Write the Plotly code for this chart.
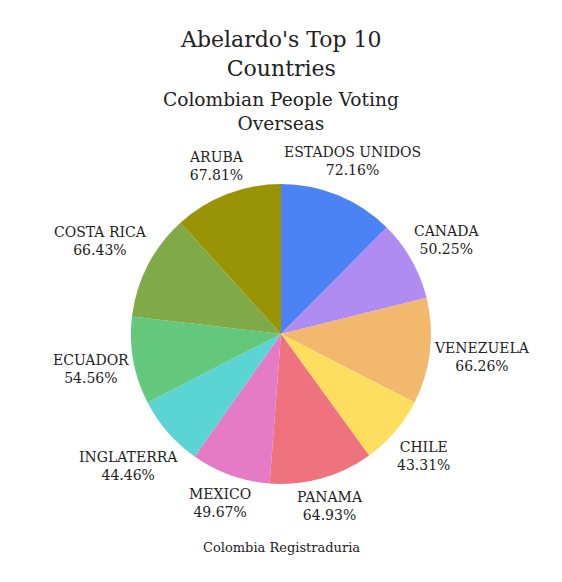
import math
import plotly.graph_objects as go

countries = ["ESTADOS UNIDOS", "CANADA", "VENEZUELA", "CHILE", "PANAMA",
             "MEXICO", "INGLATERRA", "ECUADOR", "COSTA RICA", "ARUBA"]
turnout = [72.16, 50.25, 66.26, 43.31, 64.93, 49.67, 44.46, 54.56, 66.43, 67.81]
colors = ["#4C83F4", "#B08CF2", "#F2B86E", "#FFDD5E", "#EF737E",
          "#E57BC5", "#5BD4D4", "#63C77C", "#7FAA47", "#999406"]

FONT = "DejaVu Serif"
TXT = "#222222"
W, H = 562, 582
CX, CY, R = 273, 326, 150   # pie centre / radius in figure pixels
LABEL_SIZE = 14
GAP = 7                      # clearance between pie edge and label box


def text_width(s, size):
    # rough DejaVu Serif advance widths (em units)
    w = 0
    for ch in s:
        if ch.isdigit():
            w += 0.636
        elif ch in ". ":
            w += 0.318
        elif ch == "%":
            w += 0.84
        elif ch == "I":
            w += 0.40
        else:
            w += 0.70
    return w * size


fig = go.Figure()
fig.add_trace(
    go.Pie(
        labels=countries,
        values=turnout,
        sort=False,
        direction="clockwise",
        rotation=0,
        marker={"colors": colors, "line": {"width": 0}},
        textinfo="none",
        hoverinfo="label+value",
        showlegend=False,
        domain={"x": [(CX - R) / W, (CX + R) / W], "y": [1 - (CY + R) / H, 1 - (CY - R) / H]},
    )
)

# outside labels: centred on each slice's mid-angle ray, pushed out until clear of the pie
total = sum(turnout)
cum = 0
for name, val in zip(countries, turnout):
    mid = (cum + val / 2) / total * 2 * math.pi
    cum += val
    ux, uy = math.sin(mid), -math.cos(mid)
    pct = f"{val:.2f}%"
    hw = max(text_width(name, LABEL_SIZE), text_width(pct, LABEL_SIZE)) / 2
    hh = 16
    lo, hi = 0.0, 400.0
    for _ in range(40):
        d = (lo + hi) / 2
        nx = max(0, abs(d * ux) - hw)
        ny = max(0, abs(d * uy) - hh)
        if math.hypot(nx, ny) < R + GAP:
            lo = d
        else:
            hi = d
    px, py = CX + d * ux, CY + d * uy
    fig.add_annotation(
        text=f"{name}<br>{pct}",
        x=px / W, y=1 - py / H, xref="paper", yref="paper",
        xanchor="center", yanchor="middle", showarrow=False,
        font={"size": LABEL_SIZE, "color": TXT, "family": FONT},
    )

fig.add_annotation(
    text="Abelardo's Top 10<br>Countries",
    x=CX / W, y=1 - 46 / H, xref="paper", yref="paper", yanchor="middle",
    showarrow=False, font={"size": 22, "color": TXT, "family": FONT},
)
fig.add_annotation(
    text="Colombian People Voting<br>Overseas",
    x=CX / W, y=1 - 103 / H, xref="paper", yref="paper", yanchor="middle",
    showarrow=False, font={"size": 18.6, "color": TXT, "family": FONT},
)
fig.add_annotation(
    text="Colombia Registraduria",
    x=CX / W, y=1 - 539 / H, xref="paper", yref="paper", yanchor="middle",
    showarrow=False, font={"size": 13, "color": TXT, "family": FONT},
)

fig.update_layout(
    width=W,
    height=H,
    paper_bgcolor="white",
    plot_bgcolor="white",
    font={"family": FONT, "color": TXT},
    margin={"l": 0, "r": 0, "t": 0, "b": 0},
)

fig.write_html("out.html")
